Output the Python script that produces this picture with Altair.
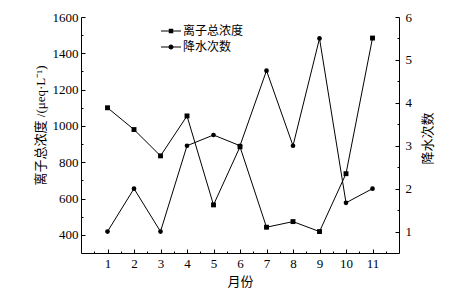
import altair as alt
import pandas as pd

months = list(range(1, 12))
conc = [1100, 980, 835, 1055, 565, 885, 442, 473, 418, 737, 1484]
count = [1, 2, 1, 3, 3.25, 3, 4.75, 3, 5.5, 1.67, 2]
series_names = ["离子总浓度", "降水次数"]
x_tick_values = [i / 2 for i in range(1, 24)]
left_tick_values = list(range(400, 1601, 100))
right_tick_values = [i / 2 for i in range(2, 13)]

df_c = pd.DataFrame({"month": months, "value": conc})
df_n = pd.DataFrame({"month": months, "value": count})
df_leg = pd.DataFrame({"series": series_names})

NUM_FONT = "Liberation Serif"
CJK_FONT = "Noto Sans CJK SC"
MIX_FONT = "Liberation Serif, Noto Sans CJK SC"

x_enc = alt.X(
    "month:Q",
    scale=alt.Scale(domain=[0, 12], nice=False, zero=False),
    axis=alt.Axis(
        values=x_tick_values,
        labelExpr="datum.value % 1 ? '' : '' + datum.value",
        tickSize=alt.ExprRef(expr="datum.value % 1 ? -2 : -4"),
        labelPadding=8,
        labelFont=NUM_FONT,
        labelFontSize=13,
        labelOverlap=False,
        labelFlush=False,
        grid=False,
        title="月份",
        titleFont=CJK_FONT,
        titleFontSize=13,
        titleFontWeight="normal",
        titleX=159,
        titleY=28,
        titleBaseline="middle",
        titleAlign="center",
    ),
)

left_y = alt.Y(
    "value:Q",
    scale=alt.Scale(domain=[300, 1600], nice=False, zero=False),
    axis=alt.Axis(
        orient="left",
        values=left_tick_values,
        labelExpr="datum.value % 200 ? '' : '' + datum.value",
        tickSize=alt.ExprRef(expr="datum.value % 200 ? -2 : -4"),
        labelPadding=7,
        labelFont=NUM_FONT,
        labelFontSize=13,
        labelOverlap=False,
        labelFlush=False,
        grid=False,
        title="离子总浓度 /(μeq·L⁻¹)",
        titleFont=MIX_FONT,
        titleFontSize=13,
        titleFontWeight="normal",
        titleAngle=270,
        titleX=-41,
        titleY=108,
        titleBaseline="middle",
        titleAlign="center",
    ),
)

right_y = alt.Y(
    "value:Q",
    scale=alt.Scale(domain=[0.5, 6], nice=False, zero=False),
    axis=alt.Axis(
        orient="right",
        values=right_tick_values,
        labelExpr="datum.value % 1 ? '' : '' + datum.value",
        tickSize=alt.ExprRef(expr="datum.value % 1 ? -2 : -4"),
        labelPadding=10,
        labelFont=NUM_FONT,
        labelFontSize=13,
        labelOverlap=False,
        labelFlush=False,
        grid=False,
        title="降水次数",
        titleFont=CJK_FONT,
        titleFontSize=13,
        titleFontWeight="normal",
        titleAngle=270,
        titleX=28,
        titleY=121,
        titleBaseline="middle",
        titleAlign="center",
    ),
)

conc_line = alt.Chart(df_c).mark_line(color="black", strokeWidth=1).encode(x=x_enc, y=left_y)
conc_pts = alt.Chart(df_c).mark_point(
    shape="square", filled=True, color="black", opacity=1, size=24
).encode(x=x_enc, y=left_y)
cnt_line = alt.Chart(df_n).mark_line(color="black", strokeWidth=1).encode(x=x_enc, y=right_y)
cnt_pts = alt.Chart(df_n).mark_point(
    shape="circle", filled=True, color="black", opacity=1, size=22
).encode(x=x_enc, y=right_y)

sq_path = "M-1.25,-0.0625H1.25V0.0625H-1.25Z M-0.28,-0.28H0.28V0.28H-0.28Z"
ci_path = ("M-1.25,-0.0625H1.25V0.0625H-1.25Z "
           "M0.31,0A0.31,0.31,0,1,1,-0.31,0A0.31,0.31,0,1,1,0.31,0Z")

legend_layer = alt.Chart(df_leg).transform_filter("false").mark_point(
    filled=True, color="black", opacity=1, size=256
).encode(
    shape=alt.Shape(
        "series:N",
        scale=alt.Scale(domain=series_names, range=[sq_path, ci_path]),
        legend=alt.Legend(
            title=None,
            orient="none",
            legendX=82,
            legendY=6,
            symbolSize=256,
            symbolFillColor="black",
            symbolStrokeWidth=0,
            symbolOpacity=1,
            labelFont=CJK_FONT,
            labelFontSize=12,
            labelOffset=4,
            rowPadding=2,
            padding=0,
        ),
    )
)

left = alt.layer(conc_line, conc_pts)
right = alt.layer(cnt_line, cnt_pts)

chart = alt.layer(left, right, legend_layer).resolve_scale(
    y="independent"
).properties(
    width=318,
    height=236,
    autosize=alt.AutoSizeParams(type="none"),
    padding={"left": 81, "top": 17, "right": 68, "bottom": 42},
    background="white",
).configure_view(
    stroke="transparent"
).configure_axis(
    domainColor="black",
    domainWidth=1,
    tickColor="black",
    tickWidth=1,
    labelColor="black",
    titleColor="black",
)

chart.save("out.html", embed_options={"renderer": "svg", "actions": False})
